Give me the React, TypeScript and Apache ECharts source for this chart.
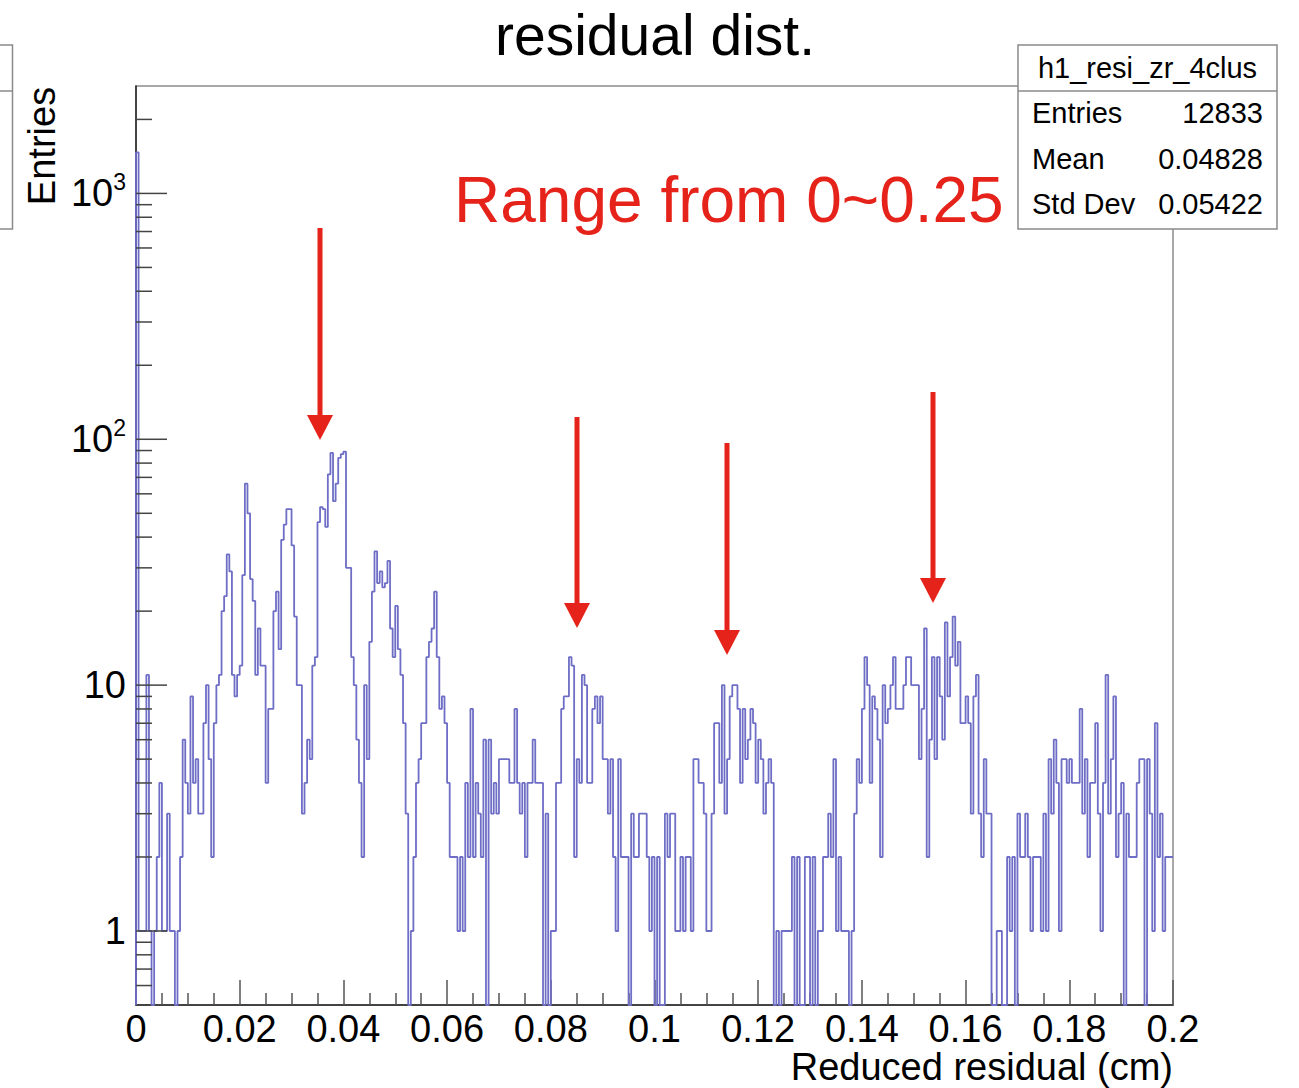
import React, { useEffect, useRef } from 'react';
import * as echarts from 'echarts';

// ---- axis ranges / binning ----
const X_MIN = 0;
const X_MAX = 0.2;
const X_STEP = 0.02;
const BIN_W = 0.0005;
const Y_MIN = 0.5;
const Y_MAX = 2735;

// ---- histogram bin contents (400 bins of 0.0005 cm) ----
const countsA = [
  1470, 1, 1, 1, 11, 1, 0, 1, 2, 4,
  1, 1, 3, 1, 1, 0, 1, 2, 6, 4,
  3, 9, 4, 5, 3, 3, 7, 10, 5, 2,
  7, 10, 11, 20, 23, 34, 29, 11, 9, 11,
  12, 28, 66, 50, 27, 22, 11, 17, 12, 12,
  4, 8, 8, 20, 24, 14, 39, 45, 52, 52,
  37, 19, 10, 10, 3, 4, 6, 5, 12, 13,
  46, 53, 52, 44, 72, 88, 56, 66, 84, 87,
  89, 30, 30, 13, 10, 6, 4, 2, 10, 5,
  15, 24, 35, 26, 29, 25, 26, 32, 17, 13,
];
const countsB = [
  21, 14, 11, 7, 3, 0, 1, 2, 4, 5,
  7, 7, 13, 15, 17, 24, 13, 8, 9, 7,
  4, 2, 2, 2, 1, 2, 1, 4, 2, 8,
  2, 4, 3, 2, 6, 0, 6, 3, 4, 3,
  5, 5, 5, 5, 4, 4, 8, 4, 3, 4,
  2, 4, 4, 6, 4, 4, 4, 0, 3, 0,
  1, 1, 4, 4, 8, 9, 9, 13, 12, 2,
  5, 4, 11, 10, 4, 4, 8, 9, 7, 9,
  5, 5, 3, 5, 2, 1, 5, 2, 2, 2,
  0, 3, 2, 2, 3, 3, 3, 2, 1, 2,
];
const countsC = [
  0, 2, 0, 0, 3, 2, 3, 3, 1, 1,
  2, 1, 2, 2, 1, 5, 5, 4, 4, 3,
  1, 1, 3, 7, 7, 4, 10, 3, 5, 9,
  10, 10, 8, 4, 8, 5, 6, 8, 7, 4,
  6, 5, 3, 4, 5, 4, 0, 1, 0, 1,
  1, 1, 1, 2, 0, 2, 0, 0, 2, 2,
  0, 2, 0, 1, 1, 2, 2, 3, 2, 5,
  1, 2, 1, 1, 1, 0, 1, 3, 5, 4,
  8, 13, 10, 4, 9, 8, 6, 2, 10, 7,
  8, 10, 13, 8, 8, 8, 10, 13, 13, 10,
];
const countsD = [
  10, 10, 5, 8, 17, 2, 6, 13, 5, 13,
  9, 6, 18, 9, 13, 19, 12, 15, 7, 7,
  9, 7, 3, 9, 11, 3, 2, 5, 3, 3,
  0, 0, 1, 1, 0, 0, 2, 1, 2, 0,
  3, 2, 2, 3, 2, 1, 2, 2, 2, 1,
  3, 1, 5, 3, 6, 4, 1, 5, 5, 4,
  5, 4, 4, 4, 8, 3, 5, 2, 4, 4,
  7, 3, 1, 4, 11, 3, 5, 9, 2, 3,
  4, 0, 3, 2, 2, 2, 4, 5, 5, 0,
  5, 3, 1, 7, 2, 3, 1, 2, 2, 2,
];

// ---- log-axis ticks ----
const yMajorTicks = [1, 10, 100, 1000];
const yMinorTicks = [
  0.6, 0.7, 0.8, 0.9,
  2, 3, 4, 5, 6, 7, 8, 9,
  20, 30, 40, 50, 60, 70, 80, 90,
  200, 300, 400, 500, 600, 700, 800, 900,
  2000,
];

// ---- texts ----
const TITLE = 'residual dist.';
const X_TITLE = 'Reduced residual (cm)';
const Y_TITLE = 'Entries';
const NOTE = 'Range from 0~0.25';
const HIST_NAME = 'h1_resi_zr_4clus';
const statLabels = ['Entries', 'Mean', 'Std Dev'];
const statValues = ['12833', '0.04828', '0.05422'];

const FONT = '"Liberation Sans", Arial, Helvetica, sans-serif';
const RED = '#e6231a';
const HIST_COLOR = '#6e6ec6';

export default function App() {
  const ref = useRef<HTMLDivElement>(null);

  useEffect(() => {
    if (!ref.current) return;
    const chart = echarts.init(ref.current, null, { renderer: 'svg' });

    const counts = [...countsA, ...countsB, ...countsC, ...countsD];
    const histData: number[][] = [[X_MIN, Y_MIN]];
    counts.forEach((c, i) => histData.push([X_MIN + i * BIN_W, c > 0 ? c : Y_MIN]));
    histData.push([X_MAX, counts[counts.length - 1] > 0 ? counts[counts.length - 1] : Y_MIN]);

    const tickData = [
      ...yMajorTicks.map((v) => [X_MIN, v, 1]),
      ...yMinorTicks.map((v) => [X_MIN, v, 0]),
    ];

    const isPow10 = (v: number) => {
      const l = Math.log10(v);
      return Math.abs(l - Math.round(l)) < 1e-6;
    };

    const arrows = [
      { x: 320, y1: 228, y2: 440 },
      { x: 577, y1: 417, y2: 628 },
      { x: 727, y1: 443, y2: 655 },
      { x: 933, y1: 392, y2: 603 },
    ];
    const arrowGraphics: any[] = [];
    arrows.forEach((a) => {
      arrowGraphics.push({
        type: 'line',
        z: 20,
        shape: { x1: a.x, y1: a.y1, x2: a.x, y2: a.y2 - 22 },
        style: { stroke: RED, lineWidth: 5 },
      });
      arrowGraphics.push({
        type: 'polygon',
        z: 20,
        shape: { points: [[a.x - 13, a.y2 - 25], [a.x + 13, a.y2 - 25], [a.x, a.y2]] },
        style: { fill: RED },
      });
    });

    const statsBox = { x: 1018, y: 45, w: 259, h: 184, header: 46 };
    const statGraphics: any[] = [
      {
        type: 'rect',
        z: 30,
        shape: { x: statsBox.x, y: statsBox.y, width: statsBox.w, height: statsBox.h },
        style: { fill: '#fff', stroke: '#8a8a8a', lineWidth: 1.5 },
      },
      {
        type: 'line',
        z: 31,
        shape: { x1: statsBox.x, y1: statsBox.y + statsBox.header, x2: statsBox.x + statsBox.w, y2: statsBox.y + statsBox.header },
        style: { stroke: '#8a8a8a', lineWidth: 1.5 },
      },
      {
        type: 'text',
        z: 31,
        x: statsBox.x + statsBox.w / 2,
        y: 68,
        style: { text: HIST_NAME, fontSize: 29, fontFamily: FONT, fill: '#000', align: 'center', verticalAlign: 'middle' },
      },
    ];
    statLabels.forEach((lab, i) => {
      const yy = 113 + i * 45.5;
      statGraphics.push({
        type: 'text', z: 31, x: 1032, y: yy,
        style: { text: lab, fontSize: 29, fontFamily: FONT, fill: '#000', align: 'left', verticalAlign: 'middle' },
      });
      statGraphics.push({
        type: 'text', z: 31, x: 1263, y: yy,
        style: { text: statValues[i], fontSize: 29, fontFamily: FONT, fill: '#000', align: 'right', verticalAlign: 'middle' },
      });
    });

    const option: any = {
      animation: false,
      backgroundColor: '#fff',
      grid: {
        left: 136,
        right: 126,
        top: 86,
        bottom: 83,
        show: true,
        borderColor: '#8c8c8c',
        borderWidth: 1.5,
        backgroundColor: 'transparent',
      },
      xAxis: {
        type: 'value',
        min: X_MIN,
        max: X_MAX,
        interval: X_STEP,
        axisLine: { show: true, onZero: false, lineStyle: { color: '#222', width: 1.5 } },
        axisTick: { show: true, inside: true, length: 25, lineStyle: { color: '#555', width: 1.5 } },
        minorTick: { show: true, splitNumber: 4, length: 12, lineStyle: { color: '#555', width: 1.5 } },
        splitLine: { show: false },
        axisLabel: {
          fontSize: 38,
          fontFamily: FONT,
          color: '#000',
          margin: 5,
          lineHeight: 38,
          formatter: (v: number) => (v === 0 ? '0' : String(Math.round(v * 1000) / 1000)),
        },
      },
      yAxis: {
        type: 'log',
        logBase: 10,
        min: Y_MIN,
        max: Y_MAX,
        axisLine: { show: true, onZero: false, lineStyle: { color: '#222', width: 1.5 } },
        axisTick: { show: false },
        splitLine: { show: false },
        axisLabel: {
          fontSize: 38,
          fontFamily: FONT,
          color: '#000',
          margin: 10,
          formatter: (v: number) => {
            if (!isPow10(v)) return '';
            const e = Math.round(Math.log10(v));
            if (e === 0) return '1';
            if (e === 1) return '10';
            return '{b|10}{s|' + e + '}';
          },
          rich: {
            b: { fontSize: 38, fontFamily: FONT, color: '#000', lineHeight: 46 },
            s: { fontSize: 23, fontFamily: FONT, color: '#000', lineHeight: 22, verticalAlign: 'top' },
          },
        },
      },
      series: [
        {
          type: 'line',
          data: histData,
          step: 'end',
          symbol: 'none',
          showSymbol: false,
          clip: true,
          lineStyle: { color: HIST_COLOR, width: 1.8 },
          z: 3,
          silent: true,
        },
        {
          type: 'custom',
          data: tickData,
          encode: { x: 0, y: 1 },
          silent: true,
          z: 5,
          renderItem: (_p: any, api: any) => {
            const v = api.value(1);
            const major = api.value(2);
            const pt = api.coord([X_MIN, v]);
            return {
              type: 'line',
              shape: { x1: pt[0], y1: pt[1], x2: pt[0] + (major ? 31 : 16), y2: pt[1] },
              style: { stroke: '#444', lineWidth: 1.5 },
            };
          },
        },
      ],
      graphic: [
        {
          type: 'text', z: 20, x: 655, y: 35,
          style: { text: TITLE, fontSize: 57, fontFamily: FONT, fill: '#000', align: 'center', verticalAlign: 'middle' },
        },
        {
          type: 'text', z: 20, x: 42, y: 146, rotation: Math.PI / 2,
          style: { text: Y_TITLE, fontSize: 38, fontFamily: FONT, fill: '#000', align: 'center', verticalAlign: 'middle' },
        },
        {
          type: 'text', z: 20, x: 1173, y: 1067,
          style: { text: X_TITLE, fontSize: 38, fontFamily: FONT, fill: '#000', align: 'right', verticalAlign: 'middle' },
        },
        {
          type: 'text', z: 20, x: 454, y: 200,
          style: { text: NOTE, fontSize: 64, fontFamily: FONT, fill: RED, align: 'left', verticalAlign: 'middle' },
        },
        {
          type: 'rect', z: 20,
          shape: { x: -20, y: 45, width: 32.5, height: 184 },
          style: { fill: '#fff', stroke: '#8a8a8a', lineWidth: 1.5 },
        },
        {
          type: 'line', z: 21,
          shape: { x1: 0, y1: 91, x2: 12.5, y2: 91 },
          style: { stroke: '#8a8a8a', lineWidth: 1.5 },
        },
        ...arrowGraphics,
        ...statGraphics,
      ],
    };

    chart.setOption(option);
    return () => chart.dispose();
  }, []);

  return (
    <div
      ref={ref}
      style={{ position: 'fixed', left: 0, top: 0, width: 1299, height: 1088, background: '#fff' }}
    />
  );
}
